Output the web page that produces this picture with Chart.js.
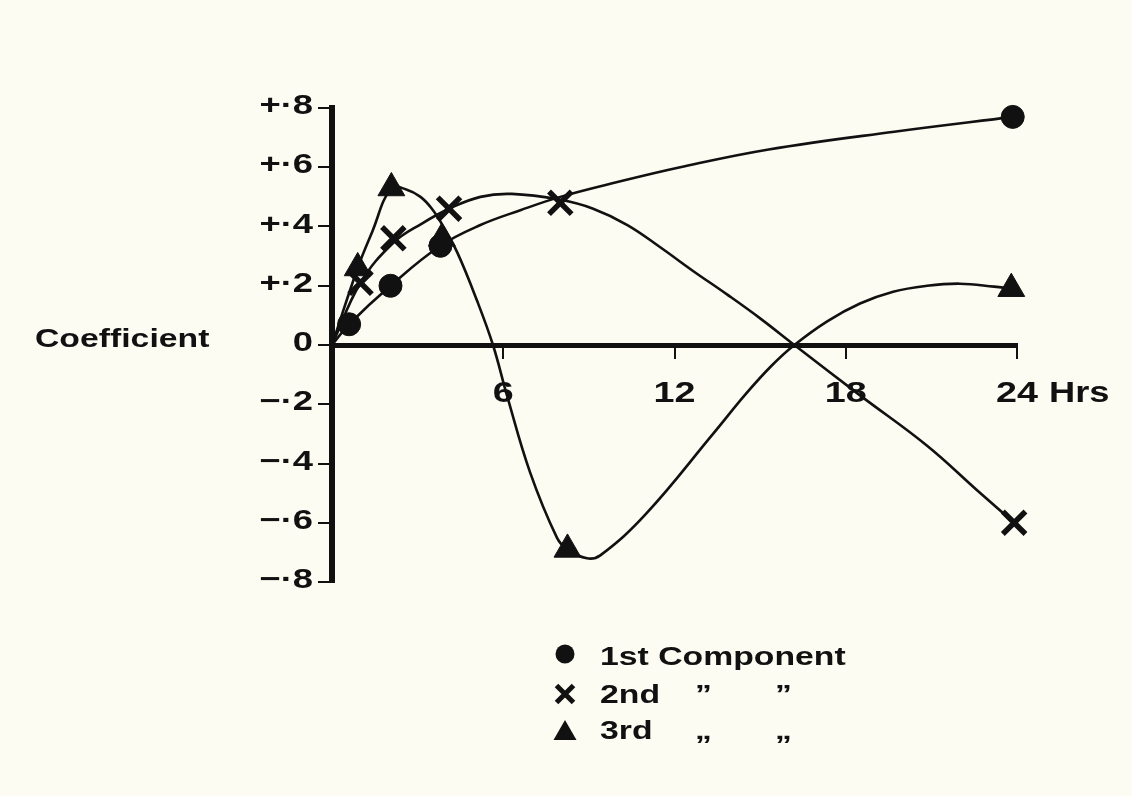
<!DOCTYPE html>
<html>
<head>
<meta charset="utf-8">
<title>Component coefficients over 24 hours</title>
<script src="https://cdn.jsdelivr.net/npm/chart.js@4/dist/chart.umd.min.js"></script>
<style>
  html, body { margin: 0; padding: 0; background: #fcfcf2; }
  canvas { display: block; }
</style>
</head>
<body>
<canvas id="chart" width="1132" height="796"></canvas>
<script>
// Axis ticks and their printed labels
const hourTicks = [0, 6, 12, 18, 24];
const hourTickLabels = ['', '6', '12', '18', '24'];
const coeffTicks = [-0.8, -0.6, -0.4, -0.2, 0, 0.2, 0.4, 0.6, 0.8];
const coeffTickLabels = ['\u2212\u00B78', '\u2212\u00B76', '\u2212\u00B74', '\u2212\u00B72', '0', '+\u00B72', '+\u00B74', '+\u00B76', '+\u00B78'];

// Sampled coefficients (plotted symbols)
const firstHours  = [0.6, 2.05, 3.8, 23.85];
const firstCoeff  = [0.07, 0.20, 0.335, 0.77];
const secondHours = [1.0, 2.15, 4.1, 8.0, 23.9];
const secondCoeff = [0.21, 0.36, 0.46, 0.48, -0.60];
const thirdHours  = [0.9, 2.08, 3.85, 8.25, 23.8];
const thirdCoeff  = [0.26, 0.53, 0.36, -0.69, 0.19];

// Hand-fitted smooth curves through each component
const firstCurveHours  = [0, 0.6, 2.05, 3.8, 5.2, 6.6, 8.0, 10.0, 12.2, 15.3, 19.7, 23.85];
const firstCurveCoeff  = [0, 0.07, 0.20, 0.335, 0.405, 0.455, 0.50, 0.55, 0.60, 0.66, 0.72, 0.77];
const secondCurveHours = [0, 1.0, 2.15, 3.15, 4.1, 5.2, 6.3, 8.0, 9.15, 10.35, 11.5, 12.65, 13.85, 15.0, 16.2, 18.5, 20.85, 22.6, 23.9];
const secondCurveCoeff = [0, 0.21, 0.345, 0.41, 0.46, 0.50, 0.51, 0.49, 0.46, 0.405, 0.33, 0.25, 0.17, 0.09, 0, -0.17, -0.34, -0.49, -0.60];
const thirdCurveHours  = [0, 0.9, 1.4, 2.08, 2.6, 3.1, 3.5, 3.9, 4.4, 5.08, 5.64, 6.13, 6.94, 7.88, 8.25, 8.93, 9.4, 11.0, 13.35, 14.5, 15.4, 16.2, 17.35, 18.5, 19.66, 20.85, 22.0, 23.2, 23.8];
const thirdCurveCoeff  = [0, 0.26, 0.38, 0.53, 0.525, 0.50, 0.46, 0.40, 0.31, 0.15, 0, -0.17, -0.43, -0.65, -0.69, -0.72, -0.71, -0.57, -0.30, -0.165, -0.07, 0, 0.08, 0.14, 0.18, 0.20, 0.207, 0.197, 0.19];

// Legend text
const legendLabels = ['1st Component', '2nd', '3rd'];
const dittoMarks = ['', '\u201D', '\u201E'];
const yAxisTitle = 'Coefficient';
const xAxisUnit = 'Hrs';

const INK = '#111111';
const FACE = '"Liberation Sans", Arial, Helvetica, sans-serif';

function pts(xs, ys) { return xs.map((x, i) => ({ x: x, y: ys[i] })); }

// Wide display lettering: bold face stretched horizontally
function wideText(ctx, text, x, baseline, size, stretch, align) {
  ctx.save();
  ctx.font = 'bold ' + size + 'px ' + FACE;
  ctx.fillStyle = INK;
  ctx.textBaseline = 'alphabetic';
  ctx.textAlign = align || 'left';
  ctx.translate(x, baseline);
  ctx.scale(stretch, 1);
  ctx.fillText(text, 0, 0);
  ctx.restore();
}

function legendSymbol(ctx, kind, cx, cy) {
  ctx.save();
  ctx.fillStyle = INK;
  ctx.strokeStyle = INK;
  if (kind === 'circle') {
    ctx.beginPath();
    ctx.arc(cx, cy, 9.5, 0, Math.PI * 2);
    ctx.fill();
  } else if (kind === 'cross') {
    ctx.lineWidth = 5;
    ctx.beginPath();
    ctx.moveTo(cx - 8.5, cy - 8.5); ctx.lineTo(cx + 8.5, cy + 8.5);
    ctx.moveTo(cx + 8.5, cy - 8.5); ctx.lineTo(cx - 8.5, cy + 8.5);
    ctx.stroke();
  } else {
    ctx.beginPath();
    ctx.moveTo(cx, cy - 11);
    ctx.lineTo(cx + 11.5, cy + 9);
    ctx.lineTo(cx - 11.5, cy + 9);
    ctx.closePath();
    ctx.fill();
  }
  ctx.restore();
}

const lettering = {
  id: 'lettering',
  afterDraw(chart) {
    const ctx = chart.ctx;
    const xs = chart.scales.x;
    const ys = chart.scales.y;

    // vertical scale labels
    coeffTicks.forEach((v, i) => {
      const py = ys.getPixelForValue(v);
      wideText(ctx, coeffTickLabels[i], xs.left - 19, py + 6, 28, 1.3, 'right');
    });

    // hour labels under the zero line
    const axisY = ys.getPixelForValue(0);
    hourTicks.forEach((h, i) => {
      if (!hourTickLabels[i]) return;
      wideText(ctx, hourTickLabels[i], xs.getPixelForValue(h), axisY + 56.5, 29, 1.3, 'center');
    });
    wideText(ctx, xAxisUnit, xs.getPixelForValue(24) + 32, axisY + 56.5, 29, 1.25, 'left');

    wideText(ctx, yAxisTitle, 35, 347, 25, 1.35, 'left');

    // key
    const kinds = ['circle', 'cross', 'triangle'];
    const symbolY = [654, 694, 731];
    const baselines = [665, 703, 739];
    kinds.forEach((k, i) => {
      legendSymbol(ctx, k, 565, symbolY[i]);
      wideText(ctx, legendLabels[i], 600, baselines[i], 25, 1.35, 'left');
      if (dittoMarks[i]) {
        wideText(ctx, dittoMarks[i], 695, baselines[i], 25, 1.35, 'left');
        wideText(ctx, dittoMarks[i], 775, baselines[i], 25, 1.35, 'left');
      }
    });
  }
};

const curveStyle = {
  showLine: true,
  pointRadius: 0,
  pointHoverRadius: 0,
  borderColor: INK,
  borderWidth: 2.6,
  tension: 0.4,
  fill: false
};
const markerStyle = {
  showLine: false,
  backgroundColor: INK,
  borderColor: INK,
  clip: false
};

new Chart(document.getElementById('chart'), {
  type: 'scatter',
  data: {
    datasets: [
      Object.assign({}, markerStyle, { label: '1st Component', pointStyle: 'circle', pointRadius: 11.5, borderWidth: 1, data: pts(firstHours, firstCoeff) }),
      Object.assign({}, markerStyle, { label: '3rd Component', pointStyle: 'triangle', pointRadius: 15.5, borderWidth: 1, data: pts(thirdHours, thirdCoeff) }),
      Object.assign({}, markerStyle, { label: '2nd Component', pointStyle: 'crossRot', pointRadius: 16, borderWidth: 5.5, data: pts(secondHours, secondCoeff) }),
      Object.assign({}, curveStyle, { label: '1st curve', data: pts(firstCurveHours, firstCurveCoeff) }),
      Object.assign({}, curveStyle, { label: '2nd curve', data: pts(secondCurveHours, secondCurveCoeff) }),
      Object.assign({}, curveStyle, { label: '3rd curve', data: pts(thirdCurveHours, thirdCurveCoeff) })
    ]
  },
  options: {
    responsive: false,
    devicePixelRatio: 1,
    animation: false,
    events: [],
    layout: { padding: { left: 318, right: 115, top: 108, bottom: 214 } },
    plugins: { legend: { display: false }, tooltip: { enabled: false } },
    scales: {
      x: {
        type: 'linear',
        min: 0,
        max: 24,
        position: { y: 0 },
        afterBuildTicks: (s) => { s.ticks = hourTicks.map(v => ({ value: v })); },
        ticks: { display: false },
        grid: { drawOnChartArea: false, drawTicks: true, tickLength: 11, lineWidth: 2, color: INK },
        border: { display: true, width: 5, color: INK }
      },
      y: {
        type: 'linear',
        min: -0.8,
        max: 0.8,
        position: 'left',
        afterBuildTicks: (s) => { s.ticks = coeffTicks.map(v => ({ value: v })); },
        afterFit: (s) => { s.width = 14; },
        ticks: { display: false },
        grid: { drawOnChartArea: false, drawTicks: true, tickLength: 14, lineWidth: 2, color: INK },
        border: { display: true, width: 6, color: INK }
      }
    }
  },
  plugins: [lettering]
});
</script>
</body>
</html>
